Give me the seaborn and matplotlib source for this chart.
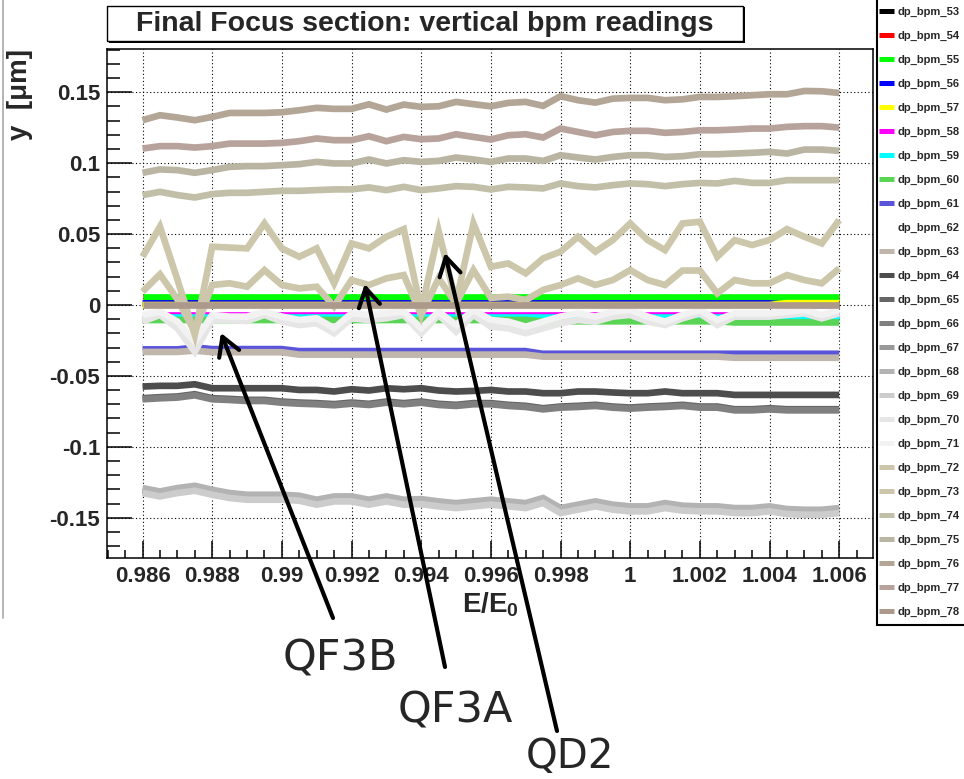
import matplotlib
matplotlib.use("Agg")
import matplotlib.pyplot as plt
from matplotlib.patches import Rectangle
from matplotlib.lines import Line2D
from matplotlib.ticker import FixedLocator, MultipleLocator
import pandas as pd
import seaborn as sns

# ---------------------------------------------------------------- data
energy = [0.9860, 0.9865, 0.9870, 0.9875, 0.9880, 0.9885, 0.9890, 0.9895, 0.9900, 0.9905,
          0.9910, 0.9915, 0.9920, 0.9925, 0.9930, 0.9935, 0.9940, 0.9945, 0.9950, 0.9955,
          0.9960, 0.9965, 0.9970, 0.9975, 0.9980, 0.9985, 0.9990, 0.9995, 1.0000, 1.0005,
          1.0010, 1.0015, 1.0020, 1.0025, 1.0030, 1.0035, 1.0040, 1.0045, 1.0050, 1.0055,
          1.0060]

bpm_53 = [0.0005, 0.0005, 0.0005, 0.0005, 0.0005, 0.0005, 0.0005, 0.0005, 0.0005, 0.0005,
          0.0005, 0.0005, 0.0005, 0.0005, 0.0005, 0.0005, 0.0005, 0.0005, 0.0005, 0.0005,
          0.0005, 0.0005, 0.0005, 0.0005, 0.0005, 0.0005, 0.0005, 0.0005, 0.0005, 0.0005,
          0.0005, 0.0005, 0.0005, 0.0005, 0.0005, 0.0005, 0.0005, 0.0005, 0.0005, 0.0005,
          0.0005]
bpm_54 = [0.0052, 0.0052, 0.0052, 0.0052, 0.0052, 0.0052, 0.0052, 0.0052, 0.0052, 0.0052,
          0.0052, 0.0052, 0.0052, 0.0052, 0.0052, 0.0052, 0.0052, 0.0052, 0.0052, 0.0052,
          0.0052, 0.0052, 0.0052, 0.0052, 0.0052, 0.0052, 0.0052, 0.0052, 0.0052, 0.0052,
          0.0052, 0.0052, 0.0052, 0.0052, 0.0052, 0.0052, 0.0052, 0.0052, 0.0052, 0.0052,
          0.0052]
bpm_55 = [0.0059, 0.0059, 0.0059, 0.0059, 0.0059, 0.0059, 0.0059, 0.0059, 0.0059, 0.0059,
          0.0059, 0.0059, 0.0059, 0.0059, 0.0059, 0.0059, 0.0059, 0.0059, 0.0059, 0.0059,
          0.0059, 0.0059, 0.0059, 0.0059, 0.0059, 0.0059, 0.0059, 0.0059, 0.0059, 0.0059,
          0.0059, 0.0059, 0.0059, 0.0059, 0.0059, 0.0059, 0.0059, 0.0059, 0.0059, 0.0059,
          0.0059]
bpm_56 = [0.0011, 0.0011, 0.0011, 0.0011, 0.0011, 0.0011, 0.0011, 0.0011, 0.0011, 0.0011,
          0.0011, 0.0011, 0.0011, 0.0011, 0.0011, 0.0011, 0.0011, 0.0011, 0.0011, 0.0011,
          0.0011, 0.0011, 0.0011, 0.0011, 0.0011, 0.0011, 0.0011, 0.0011, 0.0011, 0.0011,
          0.0011, 0.0011, 0.0011, 0.0011, 0.0011, 0.0011, 0.0011, 0.0000, 0.0000, 0.0000,
          0.0000]
bpm_57 = [0.0000, 0.0000, 0.0000, 0.0000, 0.0000, 0.0000, 0.0000, 0.0000, 0.0000, 0.0000,
          0.0000, 0.0000, 0.0000, 0.0000, 0.0000, 0.0000, 0.0000, 0.0000, 0.0000, 0.0000,
          0.0000, 0.0000, 0.0000, 0.0000, 0.0000, 0.0000, 0.0000, 0.0000, 0.0000, 0.0000,
          0.0000, 0.0000, 0.0000, 0.0000, 0.0000, 0.0000, 0.0000, 0.0013, 0.0013, 0.0013,
          0.0013]
bpm_58 = [-0.0070, -0.0070, -0.0070, -0.0070, -0.0070, -0.0070, -0.0070, -0.0070, -0.0070, -0.0070,
          -0.0070, -0.0070, -0.0070, -0.0070, -0.0070, -0.0070, -0.0070, -0.0070, -0.0070, -0.0070,
          -0.0070, -0.0070, -0.0070, -0.0070, -0.0070, -0.0070, -0.0070, -0.0070, -0.0070, -0.0070,
          -0.0070, -0.0070, -0.0070, -0.0070, -0.0070, -0.0070, -0.0070, -0.0070, -0.0070, -0.0070,
          -0.0070]
bpm_59 = [-0.0085, -0.0085, -0.0085, -0.0085, -0.0085, -0.0085, -0.0085, -0.0085, -0.0085, -0.0085,
          -0.0085, -0.0085, -0.0085, -0.0085, -0.0085, -0.0085, -0.0085, -0.0085, -0.0085, -0.0085,
          -0.0085, -0.0085, -0.0085, -0.0085, -0.0085, -0.0085, -0.0085, -0.0085, -0.0085, -0.0085,
          -0.0085, -0.0085, -0.0085, -0.0085, -0.0085, -0.0085, -0.0085, -0.0085, -0.0085, -0.0085,
          -0.0085]
bpm_60 = [-0.0106, -0.0106, -0.0106, -0.0106, -0.0106, -0.0106, -0.0106, -0.0106, -0.0106, -0.0106,
          -0.0106, -0.0106, -0.0106, -0.0106, -0.0106, -0.0106, -0.0106, -0.0106, -0.0106, -0.0106,
          -0.0106, -0.0106, -0.0106, -0.0115, -0.0115, -0.0115, -0.0115, -0.0115, -0.0115, -0.0115,
          -0.0115, -0.0115, -0.0115, -0.0115, -0.0123, -0.0123, -0.0123, -0.0123, -0.0123, -0.0123,
          -0.0123]
bpm_61 = [-0.0298, -0.0298, -0.0298, -0.0284, -0.0296, -0.0296, -0.0296, -0.0296, -0.0296, -0.0310,
          -0.0310, -0.0310, -0.0310, -0.0310, -0.0310, -0.0310, -0.0310, -0.0310, -0.0310, -0.0310,
          -0.0310, -0.0310, -0.0310, -0.0329, -0.0329, -0.0329, -0.0329, -0.0329, -0.0329, -0.0329,
          -0.0329, -0.0329, -0.0329, -0.0329, -0.0329, -0.0329, -0.0329, -0.0329, -0.0329, -0.0329,
          -0.0329]
bpm_62 = [-0.0266, -0.0266, -0.0266, -0.0252, -0.0264, -0.0264, -0.0264, -0.0264, -0.0264, -0.0278,
          -0.0278, -0.0278, -0.0278, -0.0278, -0.0278, -0.0278, -0.0278, -0.0278, -0.0278, -0.0278,
          -0.0278, -0.0278, -0.0278, -0.0297, -0.0297, -0.0297, -0.0297, -0.0297, -0.0297, -0.0297,
          -0.0297, -0.0297, -0.0297, -0.0297, -0.0297, -0.0297, -0.0297, -0.0297, -0.0297, -0.0297,
          -0.0297]
bpm_63 = [-0.0331, -0.0331, -0.0331, -0.0322, -0.0333, -0.0333, -0.0333, -0.0333, -0.0333, -0.0350,
          -0.0350, -0.0350, -0.0350, -0.0350, -0.0350, -0.0350, -0.0350, -0.0350, -0.0350, -0.0350,
          -0.0350, -0.0350, -0.0350, -0.0364, -0.0364, -0.0364, -0.0364, -0.0364, -0.0364, -0.0364,
          -0.0364, -0.0364, -0.0364, -0.0364, -0.0372, -0.0372, -0.0372, -0.0372, -0.0372, -0.0372,
          -0.0372]
bpm_64 = [-0.0575, -0.0570, -0.0570, -0.0559, -0.0587, -0.0587, -0.0587, -0.0587, -0.0587, -0.0599,
          -0.0599, -0.0610, -0.0594, -0.0603, -0.0587, -0.0594, -0.0587, -0.0603, -0.0610, -0.0606,
          -0.0599, -0.0610, -0.0610, -0.0622, -0.0622, -0.0610, -0.0610, -0.0617, -0.0622, -0.0622,
          -0.0610, -0.0622, -0.0622, -0.0622, -0.0634, -0.0634, -0.0634, -0.0634, -0.0634, -0.0634,
          -0.0634]
bpm_65 = [-0.0657, -0.0650, -0.0645, -0.0629, -0.0657, -0.0662, -0.0669, -0.0669, -0.0681, -0.0688,
          -0.0692, -0.0699, -0.0688, -0.0697, -0.0681, -0.0692, -0.0681, -0.0697, -0.0704, -0.0692,
          -0.0692, -0.0704, -0.0711, -0.0728, -0.0716, -0.0711, -0.0704, -0.0716, -0.0723, -0.0716,
          -0.0711, -0.0704, -0.0716, -0.0716, -0.0735, -0.0735, -0.0728, -0.0735, -0.0735, -0.0735,
          -0.0735]
bpm_66 = [-0.0665, -0.0658, -0.0653, -0.0637, -0.0665, -0.0670, -0.0677, -0.0677, -0.0689, -0.0696,
          -0.0700, -0.0707, -0.0696, -0.0705, -0.0689, -0.0700, -0.0689, -0.0705, -0.0712, -0.0700,
          -0.0700, -0.0712, -0.0719, -0.0736, -0.0724, -0.0719, -0.0712, -0.0724, -0.0731, -0.0724,
          -0.0719, -0.0712, -0.0724, -0.0724, -0.0743, -0.0743, -0.0736, -0.0743, -0.0743, -0.0743,
          -0.0743]
bpm_67 = [-0.1306, -0.1330, -0.1306, -0.1290, -0.1318, -0.1341, -0.1353, -0.1353, -0.1353, -0.1360,
          -0.1388, -0.1365, -0.1365, -0.1388, -0.1365, -0.1388, -0.1384, -0.1400, -0.1412, -0.1400,
          -0.1388, -0.1400, -0.1412, -0.1376, -0.1447, -0.1423, -0.1400, -0.1423, -0.1435, -0.1435,
          -0.1412, -0.1430, -0.1435, -0.1435, -0.1447, -0.1447, -0.1435, -0.1454, -0.1459, -0.1459,
          -0.1447]
bpm_68 = [-0.1291, -0.1315, -0.1291, -0.1275, -0.1303, -0.1326, -0.1338, -0.1338, -0.1338, -0.1345,
          -0.1373, -0.1350, -0.1350, -0.1373, -0.1350, -0.1373, -0.1369, -0.1385, -0.1397, -0.1385,
          -0.1373, -0.1385, -0.1397, -0.1361, -0.1432, -0.1408, -0.1385, -0.1408, -0.1420, -0.1420,
          -0.1397, -0.1415, -0.1420, -0.1420, -0.1432, -0.1432, -0.1420, -0.1439, -0.1444, -0.1444,
          -0.1432]
bpm_69 = [-0.1326, -0.1350, -0.1326, -0.1310, -0.1338, -0.1361, -0.1373, -0.1373, -0.1373, -0.1380,
          -0.1408, -0.1385, -0.1385, -0.1408, -0.1385, -0.1408, -0.1404, -0.1420, -0.1432, -0.1420,
          -0.1408, -0.1420, -0.1432, -0.1396, -0.1467, -0.1443, -0.1420, -0.1443, -0.1455, -0.1455,
          -0.1432, -0.1450, -0.1455, -0.1455, -0.1467, -0.1467, -0.1455, -0.1474, -0.1479, -0.1479,
          -0.1467]
bpm_70 = [-0.0117, -0.0070, -0.0164, -0.0330, -0.0106, -0.0106, -0.0113, -0.0070, -0.0117, -0.0141,
          -0.0129, -0.0199, -0.0094, -0.0106, -0.0094, -0.0070, -0.0199, -0.0070, -0.0188, -0.0070,
          -0.0153, -0.0164, -0.0199, -0.0164, -0.0129, -0.0106, -0.0117, -0.0082, -0.0070, -0.0117,
          -0.0141, -0.0094, -0.0059, -0.0141, -0.0082, -0.0082, -0.0082, -0.0070, -0.0059, -0.0094,
          -0.0059]
bpm_71 = [-0.0070, -0.0047, -0.0117, -0.0260, -0.0070, -0.0082, -0.0082, -0.0047, -0.0082, -0.0106,
          -0.0094, -0.0164, -0.0059, -0.0070, -0.0059, -0.0047, -0.0164, -0.0047, -0.0141, -0.0035,
          -0.0106, -0.0117, -0.0153, -0.0117, -0.0082, -0.0059, -0.0082, -0.0047, -0.0035, -0.0082,
          -0.0117, -0.0070, -0.0035, -0.0106, -0.0059, -0.0059, -0.0059, -0.0047, -0.0035, -0.0070,
          -0.0035]
bpm_72 = [0.0340, 0.0552, 0.0180, -0.0210, 0.0411, 0.0405, 0.0399, 0.0575, 0.0399, 0.0340,
          0.0399, 0.0153, 0.0434, 0.0399, 0.0481, 0.0535, -0.0040, 0.0521, 0.0020, 0.0575,
          0.0270, 0.0293, 0.0223, 0.0329, 0.0376, 0.0481, 0.0376, 0.0458, 0.0575, 0.0458,
          0.0387, 0.0575, 0.0587, 0.0340, 0.0458, 0.0423, 0.0458, 0.0535, 0.0481, 0.0434,
          0.0599]
bpm_73 = [0.0094, 0.0216, 0.0040, -0.0190, 0.0141, 0.0153, 0.0129, 0.0246, 0.0141, 0.0117,
          0.0129, -0.0010, 0.0176, 0.0141, 0.0188, 0.0211, -0.0070, 0.0188, 0.0010, 0.0246,
          0.0050, 0.0059, 0.0035, 0.0106, 0.0141, 0.0188, 0.0141, 0.0176, 0.0246, 0.0176,
          0.0141, 0.0243, 0.0243, 0.0082, 0.0176, 0.0153, 0.0153, 0.0211, 0.0176, 0.0153,
          0.0258]
bpm_74 = [0.0775, 0.0798, 0.0775, 0.0758, 0.0782, 0.0791, 0.0791, 0.0798, 0.0805, 0.0805,
          0.0810, 0.0815, 0.0815, 0.0829, 0.0810, 0.0833, 0.0810, 0.0822, 0.0838, 0.0833,
          0.0815, 0.0833, 0.0829, 0.0822, 0.0857, 0.0838, 0.0829, 0.0845, 0.0857, 0.0852,
          0.0838, 0.0852, 0.0861, 0.0857, 0.0875, 0.0861, 0.0861, 0.0880, 0.0880, 0.0880,
          0.0880]
bpm_75 = [0.0932, 0.0956, 0.0951, 0.0932, 0.0951, 0.0974, 0.0979, 0.0979, 0.0986, 0.0993,
          0.1009, 0.0998, 0.0998, 0.1026, 0.0998, 0.1021, 0.1009, 0.1016, 0.1040, 0.1026,
          0.1009, 0.1033, 0.1033, 0.1016, 0.1056, 0.1040, 0.1026, 0.1044, 0.1056, 0.1056,
          0.1044, 0.1049, 0.1063, 0.1063, 0.1068, 0.1073, 0.1080, 0.1068, 0.1096, 0.1096,
          0.1087]
bpm_76 = [0.1303, 0.1338, 0.1322, 0.1303, 0.1326, 0.1354, 0.1354, 0.1354, 0.1359, 0.1373,
          0.1390, 0.1383, 0.1383, 0.1415, 0.1378, 0.1413, 0.1397, 0.1401, 0.1432, 0.1416,
          0.1401, 0.1425, 0.1432, 0.1404, 0.1472, 0.1444, 0.1427, 0.1455, 0.1460, 0.1460,
          0.1444, 0.1450, 0.1467, 0.1467, 0.1472, 0.1479, 0.1486, 0.1486, 0.1509, 0.1507,
          0.1495]
bpm_77 = [0.1103, 0.1120, 0.1120, 0.1110, 0.1120, 0.1138, 0.1138, 0.1138, 0.1143, 0.1155,
          0.1174, 0.1162, 0.1162, 0.1190, 0.1155, 0.1185, 0.1169, 0.1174, 0.1204, 0.1185,
          0.1167, 0.1197, 0.1204, 0.1181, 0.1244, 0.1220, 0.1197, 0.1220, 0.1228, 0.1228,
          0.1214, 0.1220, 0.1232, 0.1232, 0.1237, 0.1244, 0.1244, 0.1256, 0.1261, 0.1261,
          0.1251]
bpm_78 = [0.0000, 0.0000, 0.0000, 0.0000, 0.0000, 0.0000, 0.0000, 0.0000, 0.0000, 0.0000,
          0.0000, 0.0000, 0.0000, 0.0000, 0.0000, 0.0000, 0.0000, 0.0000, 0.0000, 0.0000,
          0.0000, 0.0000, 0.0000, 0.0000, 0.0000, 0.0000, 0.0000, 0.0000, 0.0000, 0.0000,
          0.0000, 0.0000, 0.0000, 0.0000, 0.0000, 0.0000, 0.0000, 0.0000, 0.0000, 0.0000,
          0.0000]

series = {
    "dp_bpm_53": bpm_53, "dp_bpm_54": bpm_54, "dp_bpm_55": bpm_55, "dp_bpm_56": bpm_56,
    "dp_bpm_57": bpm_57, "dp_bpm_58": bpm_58, "dp_bpm_59": bpm_59, "dp_bpm_60": bpm_60,
    "dp_bpm_61": bpm_61, "dp_bpm_62": bpm_62, "dp_bpm_63": bpm_63, "dp_bpm_64": bpm_64,
    "dp_bpm_65": bpm_65, "dp_bpm_66": bpm_66, "dp_bpm_67": bpm_67, "dp_bpm_68": bpm_68,
    "dp_bpm_69": bpm_69, "dp_bpm_70": bpm_70, "dp_bpm_71": bpm_71, "dp_bpm_72": bpm_72,
    "dp_bpm_73": bpm_73, "dp_bpm_74": bpm_74, "dp_bpm_75": bpm_75, "dp_bpm_76": bpm_76,
    "dp_bpm_77": bpm_77, "dp_bpm_78": bpm_78,
}

x_ticks = [0.986, 0.988, 0.990, 0.992, 0.994, 0.996, 0.998, 1.000, 1.002, 1.004, 1.006]
x_tick_labels = ["0.986", "0.988", "0.99", "0.992", "0.994", "0.996", "0.998", "1",
                 "1.002", "1.004", "1.006"]
y_ticks = [-0.15, -0.10, -0.05, 0.0, 0.05, 0.10, 0.15]
y_tick_labels = ["-0.15", "-0.1", "-0.05", "0", "0.05", "0.1", "0.15"]

# ROOT default colour indices 1..26
root_colors = [
    (0, 0, 0), (1, 0, 0), (0, 1, 0), (0, 0, 1), (1, 1, 0), (1, 0, 1), (0, 1, 1),
    (0.35, 0.83, 0.33), (0.35, 0.33, 0.85), (0.999, 0.999, 0.999), (0.754, 0.715, 0.676),
    (0.3, 0.3, 0.3), (0.4, 0.4, 0.4), (0.5, 0.5, 0.5), (0.6, 0.6, 0.6), (0.7, 0.7, 0.7),
    (0.8, 0.8, 0.8), (0.9, 0.9, 0.9), (0.95, 0.95, 0.95), (0.8, 0.78, 0.67),
    (0.8, 0.78, 0.67), (0.76, 0.75, 0.66), (0.73, 0.71, 0.64), (0.70, 0.65, 0.59),
    (0.72, 0.64, 0.61), (0.68, 0.60, 0.55),
]

# ---------------------------------------------------------------- figure
W, H = 964, 779


def fx(px):
    return px / W


def fy(py):
    return 1 - py / H


sns.set_theme(style="white")
plt.rcParams["font.family"] = ["Liberation Sans", "DejaVu Sans"]
plt.rcParams["mathtext.fontset"] = "custom"
plt.rcParams["mathtext.rm"] = "Liberation Sans"
plt.rcParams["mathtext.bf"] = "Liberation Sans:bold"
plt.rcParams["mathtext.it"] = "Liberation Sans:italic"

fig = plt.figure(figsize=(W / 100, H / 100), dpi=100)
fig.patch.set_facecolor("white")

ax_left, ax_right, ax_top, ax_bottom = 107, 873, 49, 558
ax = fig.add_axes([fx(ax_left), fy(ax_bottom), fx(ax_right - ax_left), (ax_bottom - ax_top) / H])

names = list(series.keys())
df = pd.DataFrame({
    "E": [e for n in names for e in energy],
    "y": [v for n in names for v in series[n]],
    "bpm": [n for n in names for _ in energy],
})
palette = dict(zip(names, root_colors))

sns.lineplot(data=df, x="E", y="y", hue="bpm", hue_order=names, palette=palette,
             estimator=None, errorbar=None, sort=False, linewidth=4.8, legend=False,
             solid_joinstyle="miter", solid_capstyle="butt", ax=ax)

ax.set_xlim(0.98498, 1.00697)
ax.set_ylim(-0.1784, 0.1805)
ax.xaxis.set_major_locator(FixedLocator(x_ticks))
ax.xaxis.set_minor_locator(MultipleLocator(0.0005))
ax.yaxis.set_major_locator(FixedLocator(y_ticks))
ax.yaxis.set_minor_locator(MultipleLocator(0.01))
ax.set_xticklabels(x_tick_labels, fontsize=16, fontweight="bold")
ax.set_yticklabels(y_tick_labels, fontsize=16, fontweight="bold")
ax.tick_params(which="both", direction="in", top=False, right=False, bottom=True, left=True,
               color="black", width=1.1)
ax.tick_params(axis="y", which="major", length=18, pad=5)
ax.tick_params(axis="y", which="minor", length=9.5)
ax.tick_params(axis="x", which="major", length=12, pad=6)
ax.tick_params(axis="x", which="minor", length=6)
ax.grid(True, which="major", color="black", linestyle=(0, (1, 2.2)), linewidth=0.8)
ax.set_axisbelow(True)
for sp in ax.spines.values():
    sp.set_color("black")
    sp.set_linewidth(1.1)

ax.set_xlabel(r"E/E$_\mathbf{0}$", fontsize=20, fontweight="bold")
ax.xaxis.set_label_coords(0.5, -0.063)
ax.set_ylabel("y  [μm]", fontsize=20, fontweight="bold", loc="top")
ax.yaxis.set_label_coords(-0.0966, 1.0)

# title pave with shadow
fig.add_artist(Rectangle((fx(109), fy(43)), fx(743 - 107), (43 - 7) / H,
                         transform=fig.transFigure, facecolor="black", edgecolor="black", lw=0))
fig.add_artist(Rectangle((fx(107), fy(41)), fx(743 - 107), (41 - 6) / H,
                         transform=fig.transFigure, facecolor="white", edgecolor="black", lw=1.0))
fig.text(fx(425), fy(24), "Final Focus section: vertical bpm readings", ha="center",
         va="center", fontsize=20.5, fontweight="bold")

# legend box (runs past the right edge of the canvas)
fig.add_artist(Rectangle((fx(877), fy(625)), fx(140), 640 / H, transform=fig.transFigure,
                         facecolor="white", edgecolor="black", lw=1.5, clip_on=False))
handles = ax.get_lines()[:len(names)]
leg = fig.legend(handles, names, loc="upper left", bbox_to_anchor=(fx(879), fy(7)),
                 frameon=False, prop={"size": 8, "weight": "bold"}, handlelength=1.35,
                 handletextpad=0.3, labelspacing=1.25, borderpad=0, borderaxespad=0)
for lh in leg.get_lines():
    lh.set_linewidth(3.6)

# thin canvas edge at the left
fig.add_artist(Line2D([fx(3), fx(3)], [fy(0), fy(618)], transform=fig.transFigure,
                      color="#a8a8a8", lw=1.2))

# magnet annotations
notes = [
    ("QF3B", 0.98825, -0.0197, 333, 618, 340, 670, 31),
    ("QF3A", 0.99238, 0.0148, 445, 667, 455, 722, 31),
    ("QD2", 0.99468, 0.0367, 557, 731, 570, 768, 29),
]
for label, xd, yd, tx, ty, lx, ly, fs in notes:
    ax.annotate("", xy=(xd, yd), xycoords="data", xytext=(fx(tx), fy(ty)),
                textcoords="figure fraction", annotation_clip=False,
                arrowprops=dict(arrowstyle="->,head_length=0.6,head_width=0.35", lw=3,
                                color="black", shrinkA=0, shrinkB=0, mutation_scale=22))
    fig.text(fx(lx), fy(ly), label, ha="center", va="baseline", fontsize=fs,
             family=["DejaVu Sans"])

fig.savefig("out.png", dpi=100)
